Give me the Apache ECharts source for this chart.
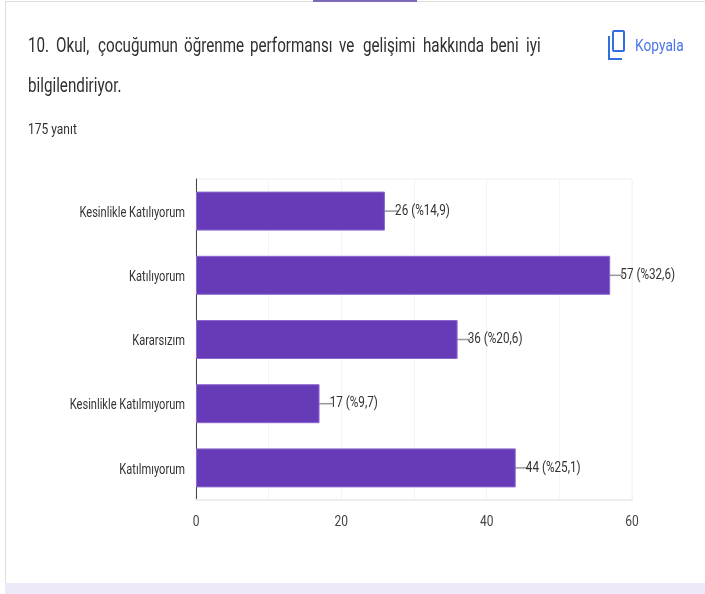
<!DOCTYPE html>
<html><head><meta charset="utf-8">
<style>html,body{margin:0;padding:0;background:#fff}#c{width:705px;height:594px}</style>
<script src="https://cdn.jsdelivr.net/npm/echarts@6/dist/echarts.min.js"></script>
</head><body><div id="c"></div>
<script>
const categories = ['Kesinlikle Katılıyorum','Katılıyorum','Kararsızım','Kesinlikle Katılmıyorum','Katılmıyorum'];
const counts = [26,57,36,17,44];
const percents = ['14,9','32,6','20,6','9,7','25,1'];
const ticks = [0,20,40,60];
const titleWords = ['10.','Okul,','çocuğumun','öğrenme','performansı','ve','gelişimi','hakkında','beni','iyi'];
const titleWordX = [28,56,98,184,250,339,363,423,490,526];
const FONT = 'Roboto,sans-serif';
const valueLabel = i => counts[i]+' (%'+percents[i]+')';
const chart = echarts.init(document.getElementById('c'));
const wordEls = titleWords.map((w,i)=>({type:'text',x:titleWordX[i],y:37,scaleX:0.76,style:{text:w,font:'20px '+FONT,fill:'#2f2f2f'}}));
chart.setOption({
  animation:false,
  backgroundColor:'#fff',
  grid:{left:196,top:179,width:436,height:321,containLabel:false,show:true,borderColor:'#f0f0f0',borderWidth:1},
  xAxis:{type:'value',min:0,max:60,interval:10,
    axisLine:{show:true,lineStyle:{color:'#eeeeee',width:2}},axisTick:{show:false},
    splitLine:{show:true,lineStyle:{color:'#f4f4f4',width:1}},
    axisLabel:{margin:15,color:'#444',fontFamily:FONT,fontSize:15,
      formatter:v=>ticks.includes(v)?String(v):''}},
  yAxis:{type:'category',inverse:true,data:categories,
    axisLine:{show:true,lineStyle:{color:'#444',width:1}},axisTick:{show:false},splitLine:{show:false},
    axisLabel:{margin:11,color:'#333',fontFamily:FONT,fontSize:15}},
  series:[{type:'bar',data:counts,barWidth:39,
    itemStyle:{color:'#673ab7',borderColor:'#8d68cf',borderWidth:1},
    label:{show:true,position:'right',distance:0,color:'#333',fontFamily:FONT,fontSize:15,
      formatter:p=>valueLabel(p.dataIndex)},
    labelLayout:{dx:13},
    labelLine:{show:true,lineStyle:{color:'#999',width:1.5}}
  }],
  graphic:[
    {type:'rect',shape:{x:0,y:0,width:705,height:594},style:{fill:'#fff'},z:-10,silent:true},
    {type:'rect',shape:{x:5,y:1,width:1,height:582},style:{fill:'#dddddd'},z:-9},
    {type:'rect',shape:{x:5,y:1,width:700,height:1},style:{fill:'#dddddd'},z:-9},
    {type:'rect',shape:{x:5,y:583,width:700,height:11},style:{fill:'#ede9f8'},z:-9},
    {type:'rect',shape:{x:313,y:0,width:104,height:2},style:{fill:'#7e68b8'},z:-8},
    ...wordEls,
    {type:'text',x:28,y:77,scaleX:0.76,style:{text:'bilgilendiriyor.',font:'20px '+FONT,fill:'#2f2f2f'}},
    {type:'text',x:28,y:123,scaleX:0.8,style:{text:'175 yanıt',font:'15px '+FONT,fill:'#333'}},
    {type:'text',x:635,y:38,scaleX:0.81,style:{text:'Kopyala',font:'17px '+FONT,fill:'#4a76e8'}},
    {type:'rect',shape:{x:613,y:31,width:11,height:20,r:1},style:{fill:'none',stroke:'#2f6fe0',lineWidth:2}},
    {type:'polyline',shape:{points:[[609,36],[609,59],[622,59]]},style:{fill:'none',stroke:'#2f6fe0',lineWidth:2}}
  ]
});
// The reference text is horizontally condensed; apply the same condensing to the axis and value labels.
const condense = new Map();
categories.forEach(c=>condense.set(c,{sx:0.74,dy:2}));
counts.forEach((_,i)=>condense.set(valueLabel(i),{sx:0.78,dy:1}));
ticks.forEach(t=>condense.set(String(t),{sx:0.8,dy:0}));
function walk(el){
  if(el.isGroup) el.eachChild(walk);
  const tc = el.getTextContent && el.getTextContent();
  if(tc) walk(tc);
  if(el.type==='text' && el.style && condense.has(el.style.text)){
    const c = condense.get(el.style.text);
    el.scaleX = c.sx;
    el.y += c.dy;
    el.markRedraw();
  }
}
const zr = chart.getZr();
zr.storage.getRoots().forEach(walk);
zr.flush();
</script></body></html>
